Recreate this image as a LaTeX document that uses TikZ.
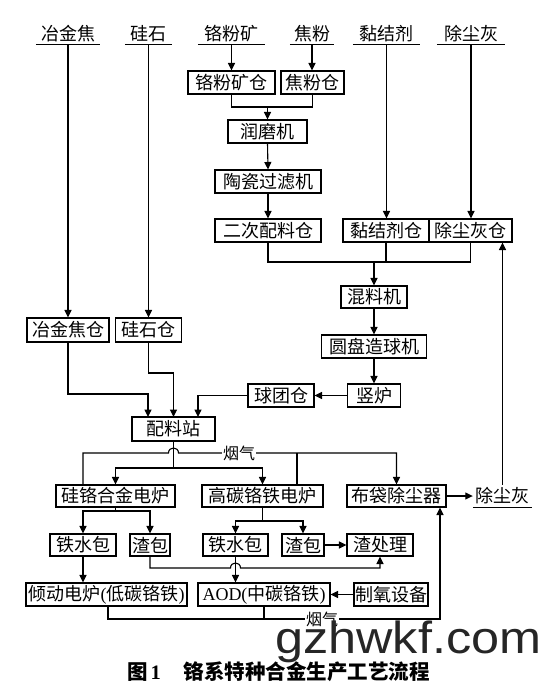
\documentclass[tikz,border=0pt]{standalone}
\usepackage{fontspec}
\setmainfont{Liberation Serif}
\newfontfamily\cjk{Noto Sans CJK SC}
\newfontfamily\lat{Liberation Serif}
\newfontfamily\wmfont{Liberation Sans}
\usetikzlibrary{arrows.meta}
\begin{document}
\begin{tikzpicture}[x=1pt,y=-1pt,
  box/.style={draw, line width=1.05pt, font=\cjk\fontsize{18}{18}\selectfont, minimum height=23pt, inner xsep=1pt, inner ysep=0pt},
  src/.style={font=\cjk\fontsize{18}{18}\selectfont, minimum height=21pt, inner sep=0pt},
  flow/.style={line width=1.1pt, -{Triangle[length=7.5pt,width=7pt]}},
  ln/.style={line width=1.1pt},
  gas/.style={font=\cjk\fontsize{16}{16}\selectfont, fill=white, inner xsep=1pt, inner ysep=0pt}]
\fill[white] (0,0) rectangle (545,690);
\useasboundingbox (0,0) rectangle (545,690);
% sources
\node[src,minimum width=64pt] (s1) at (68,33.5) {冶金焦};
\node[src,minimum width=47pt] (s2) at (148.5,33.5) {硅石};
\node[src,minimum width=67pt] (s3) at (231.5,33.5) {铬粉矿};
\node[src,minimum width=44pt] (s4) at (312,33.5) {焦粉};
\node[src,minimum width=67pt] (s5) at (386.5,33.5) {黏结剂};
\node[src,minimum width=68pt] (s6) at (471,33.5) {除尘灰};
\foreach \i in {1,...,6} \draw[ln] (s\i.south west) -- (s\i.south east);
% boxes
\node[box,minimum width=87pt] (crb) at (231.5,82.5) {铬粉矿仓};
\node[box,minimum width=63pt] (jfb) at (312.5,82.5) {焦粉仓};
\node[box,minimum width=79pt] (rmj) at (267.5,131.5) {润磨机};
\node[box,minimum width=106pt] (tcg) at (268,181.5) {陶瓷过滤机};
\node[box,minimum width=106pt] (ecp) at (268,230.5) {二次配料仓};
\node[box,minimum width=86pt] (njb) at (386,230.5) {黏结剂仓};
\node[box,minimum width=83pt] (ccb) at (470.5,230.5) {除尘灰仓};
\node[box,minimum width=82pt,minimum height=24pt] (yjb) at (68,330) {冶金焦仓};
\node[box,minimum width=66pt,minimum height=24pt] (gsb) at (148.5,330) {硅石仓};
\node[box,minimum width=66pt,minimum height=22pt] (hlj) at (374,297) {混料机};
\node[box,minimum width=105pt] (ypz) at (374,346.5) {圆盘造球机};
\node[box,minimum width=53pt] (sl) at (374,395.5) {竖炉};
\node[box,minimum width=66pt] (qtc) at (281,395.5) {球团仓};
\node[box,minimum width=83pt,minimum height=24pt] (plz) at (173.5,429) {配料站};
\node[box,minimum width=119pt,minimum height=22pt] (ggd) at (115.5,496) {硅铬合金电炉};
\node[box,minimum width=121pt,minimum height=22pt] (gtd) at (262.5,496) {高碳铬铁电炉};
\node[box,minimum width=99pt,minimum height=22pt] (bdc) at (396.5,496) {布袋除尘器};
\node[src,minimum width=59pt,minimum height=22pt] (cch) at (502.5,496) {除尘灰};
\draw[ln] (cch.south west) -- (cch.south east);
\node[box,minimum width=66pt,minimum height=22pt] (tsl) at (83,545) {铁水包};
\node[box,minimum width=40pt,minimum height=22pt] (zbl) at (150,545) {渣包};
\node[box,minimum width=65pt,minimum height=22pt] (tsm) at (235.5,545) {铁水包};
\node[box,minimum width=42pt,minimum height=22pt] (zbm) at (303,545) {渣包};
\node[box,minimum width=66pt,minimum height=22pt] (zcl) at (380,545) {渣处理};
\node[box,minimum width=161pt] (qdl) at (106.5,594.5) {倾动电炉{\lat(}低碳铬铁{\lat)}};
\node[box,minimum width=132pt] (aod) at (264,594.5) {{\lat AOD(}中碳铬铁{\lat)}};
\node[box,minimum width=74pt] (zyq) at (391,594.5) {制氧设备};
% top connectors
\draw[flow] (s1.south) -- (yjb.north);
\draw[flow] (s2.south) -- (gsb.north);
\draw[flow] (s3.south) -- (crb.north);
\draw[flow] (s4.south) -- (s4.south |- jfb.north);
\draw[flow] (s5.south) -- (s5.south |- njb.north);
\draw[flow] (s6.south) -- (s6.south |- ccb.north);
\coordinate (j1) at (267.5,107);
\draw[ln] (crb.south) -- (crb.south |- j1) -- (jfb.south |- j1) -- (jfb.south);
\draw[flow] (j1) -- (rmj.north);
\draw[flow] (rmj.south) -- (tcg.north);
\draw[flow] (tcg.south) -- (ecp.north);
\coordinate (j2) at (374,262);
\draw[ln] (ecp.south) -- (ecp.south |- j2) -- (ccb.south |- j2) -- (ccb.south);
\draw[ln] (njb.south) -- (njb.south |- j2);
\draw[flow] (j2) -- (hlj.north);
\draw[flow] (hlj.south) -- (ypz.north);
\draw[flow] (ypz.south) -- (sl.north);
\draw[flow] (sl.west) -- (qtc.east);
% into batching station
\coordinate (p1) at (148,417);
\coordinate (p2) at (173.5,417);
\coordinate (p3) at (198,417);
\draw[flow] (qtc.west) -| (p3);
\draw[flow] (yjb.south) -- (68,394) -| (p1);
\draw[flow] (gsb.south) -- (148.5,373) -| (p2);
% to furnaces
\coordinate (j3) at (173.5,468);
\draw[ln] (plz.south) -- (j3);
\draw[flow] (j3) -| (ggd.north);
\draw[flow] (j3) -| (gtd.north);
% flue gas top
\coordinate (f1) at (83,453);
\coordinate (f2) at (297,453);
\coordinate (f3) at (396.5,453);
\draw[flow] (ggd.north -| f1) -- (f1) -- (168.5,453) .. controls (168.5,446.3) and (178.5,446.3) .. (178.5,453) -- (f3) -- (bdc.north);
\draw[ln] (gtd.north -| f2) -- (f2);
\node[gas] (gas1) at (239,453) {烟气};
% furnace outputs
\coordinate (j4) at (115.5,511);
\draw[ln] (ggd.south) -- (j4);
\draw[flow] (j4) -| (tsl.north);
\draw[flow] (j4) -| (zbl.north);
\coordinate (j5) at (262.5,521);
\draw[ln] (gtd.south) -- (j5);
\draw[flow] (j5) -| (tsm.north);
\draw[flow] (j5) -| (zbm.north);
\draw[flow] (zbm.east) -- (zcl.west);
\coordinate (k1) at (150,568);
\coordinate (k2) at (380,568);
\draw[flow] (zbl.south) -- (k1) -- (230.5,568) .. controls (230.5,561.3) and (240.5,561.3) .. (240.5,568) -- (k2) -- (zcl.south);
\draw[flow] (tsm.south) -- (tsm.south |- aod.north);
\draw[flow] (tsl.south) -- (tsl.south |- qdl.north);
\draw[flow] (zyq.west) -- (aod.east);
% bottom flue gas
\coordinate (g1) at (108,619);
\coordinate (g2) at (440,619);
\draw[flow] (qdl.south -| g1) -- (g1) -- (g2) -- (bdc.south -| g2);
\draw[ln] (aod.south) -- (aod.south |- g1);
\node[gas] (gas2) at (322,619) {烟气};
% dust
\draw[flow] (bdc.east) -- (cch.west);
\draw[flow] (cch.north) -- (cch.north |- ccb.south);
% caption
\node[anchor=west, font=\cjk\bfseries\fontsize{20.5}{20.5}\selectfont, inner sep=0pt] (cap) at (127,672) {图\hspace{3pt}{\lat\bfseries 1}\hspace{23pt}铬系特种合金生产工艺流程};
% watermark
\node[anchor=base west, font=\wmfont\fontsize{45}{45}\selectfont, inner sep=0pt, xscale=1.12, text=black!85] (wm) at (275,653) {gzhwkf.com};
\end{tikzpicture}
\end{document}
